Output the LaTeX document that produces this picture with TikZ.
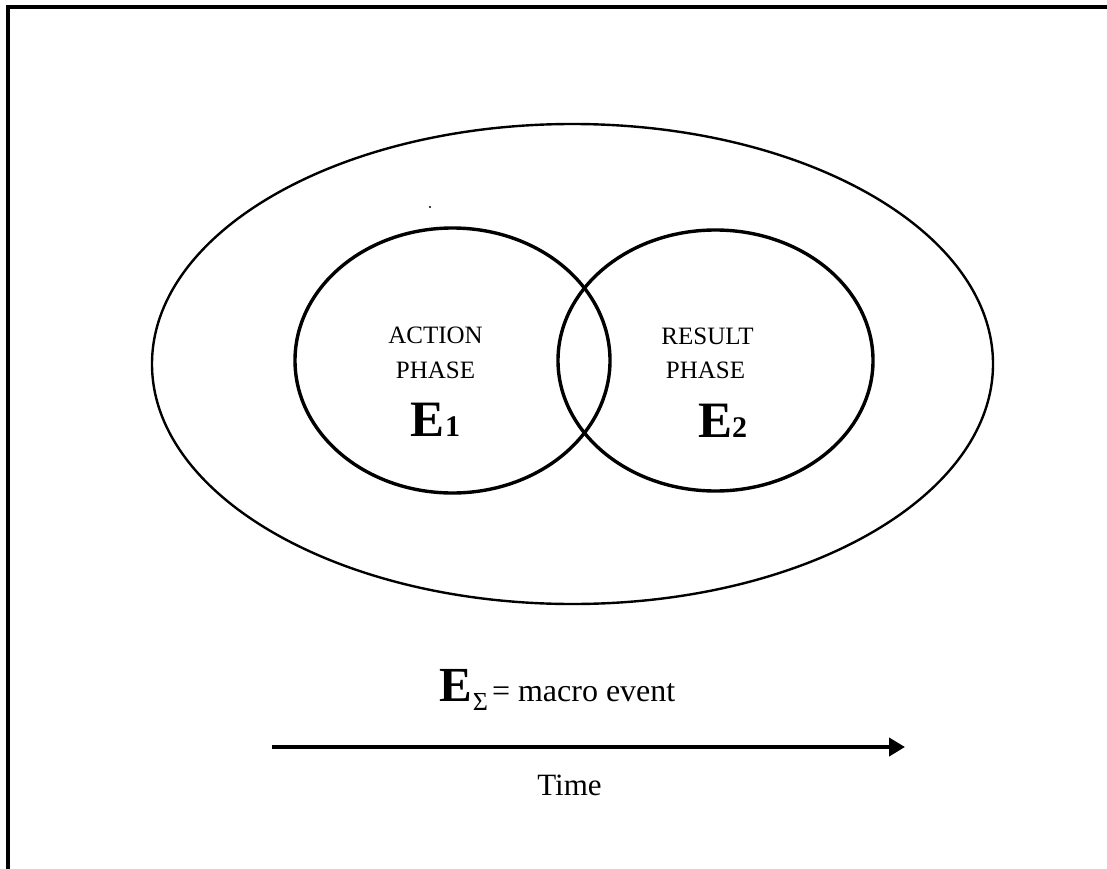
\documentclass[tikz,border=0pt]{standalone}
\usepackage{fontspec}
\setmainfont{Liberation Serif}
\usetikzlibrary{arrows.meta}
\begin{document}
\begin{tikzpicture}[x=1pt,y=-1pt,
  label/.style={anchor=base,inner sep=0pt,font=\fontsize{25}{30}\selectfont},
  evt/.style={anchor=base,inner sep=0pt},
  outerring/.style={line width=2.4pt},
  phasering/.style={line width=3.4pt}]
\useasboundingbox (0,0) rectangle (1107,869);
% open frame: top and left edges only
\draw[line width=4pt,miter limit=10] (1107,7) -- (8,7) -- (8,869);
% macro event and its two phases
\draw[outerring] (572.5,364) ellipse [x radius=420.5, y radius=240];
\draw[phasering] (452.5,360.5) ellipse [x radius=157.5, y radius=132.5];
\draw[phasering] (715.5,360.5) ellipse [x radius=157.5, y radius=130.5];
\fill (430,207) circle (1.2);
% phase labels
\node[label] (act) at (435.5,343) {ACTION};
\node[label] (actp) at (435.5,378) {PHASE};
\node[evt] (e1) at (435.5,436) {\fontsize{51}{56}\selectfont\bfseries E\fontsize{30}{34}\selectfont 1};
\node[label] (res) at (707.5,344) {RESULT};
\node[label] (resp) at (705.5,378) {PHASE};
\node[evt] (e2) at (722.5,437) {\fontsize{51}{56}\selectfont\bfseries E\fontsize{30}{34}\selectfont 2};
% macro event legend
\node[evt,anchor=base west] (esum) at (439,701) {\fontsize{49}{54}\selectfont\bfseries E\kern1pt\raisebox{-9pt}{\fontsize{26}{30}\selectfont\mdseries Σ}\kern4pt\fontsize{32}{36}\selectfont\mdseries = macro event};
% time axis
\coordinate (t0) at (272,747);
\coordinate (t1) at (905,747);
\draw[line width=4pt,-{Triangle[length=16pt,width=18pt]}] (t0) -- (t1);
\node[evt,font=\fontsize{31}{36}\selectfont] (time) at (569.5,795) {Time};
\end{tikzpicture}
\end{document}
